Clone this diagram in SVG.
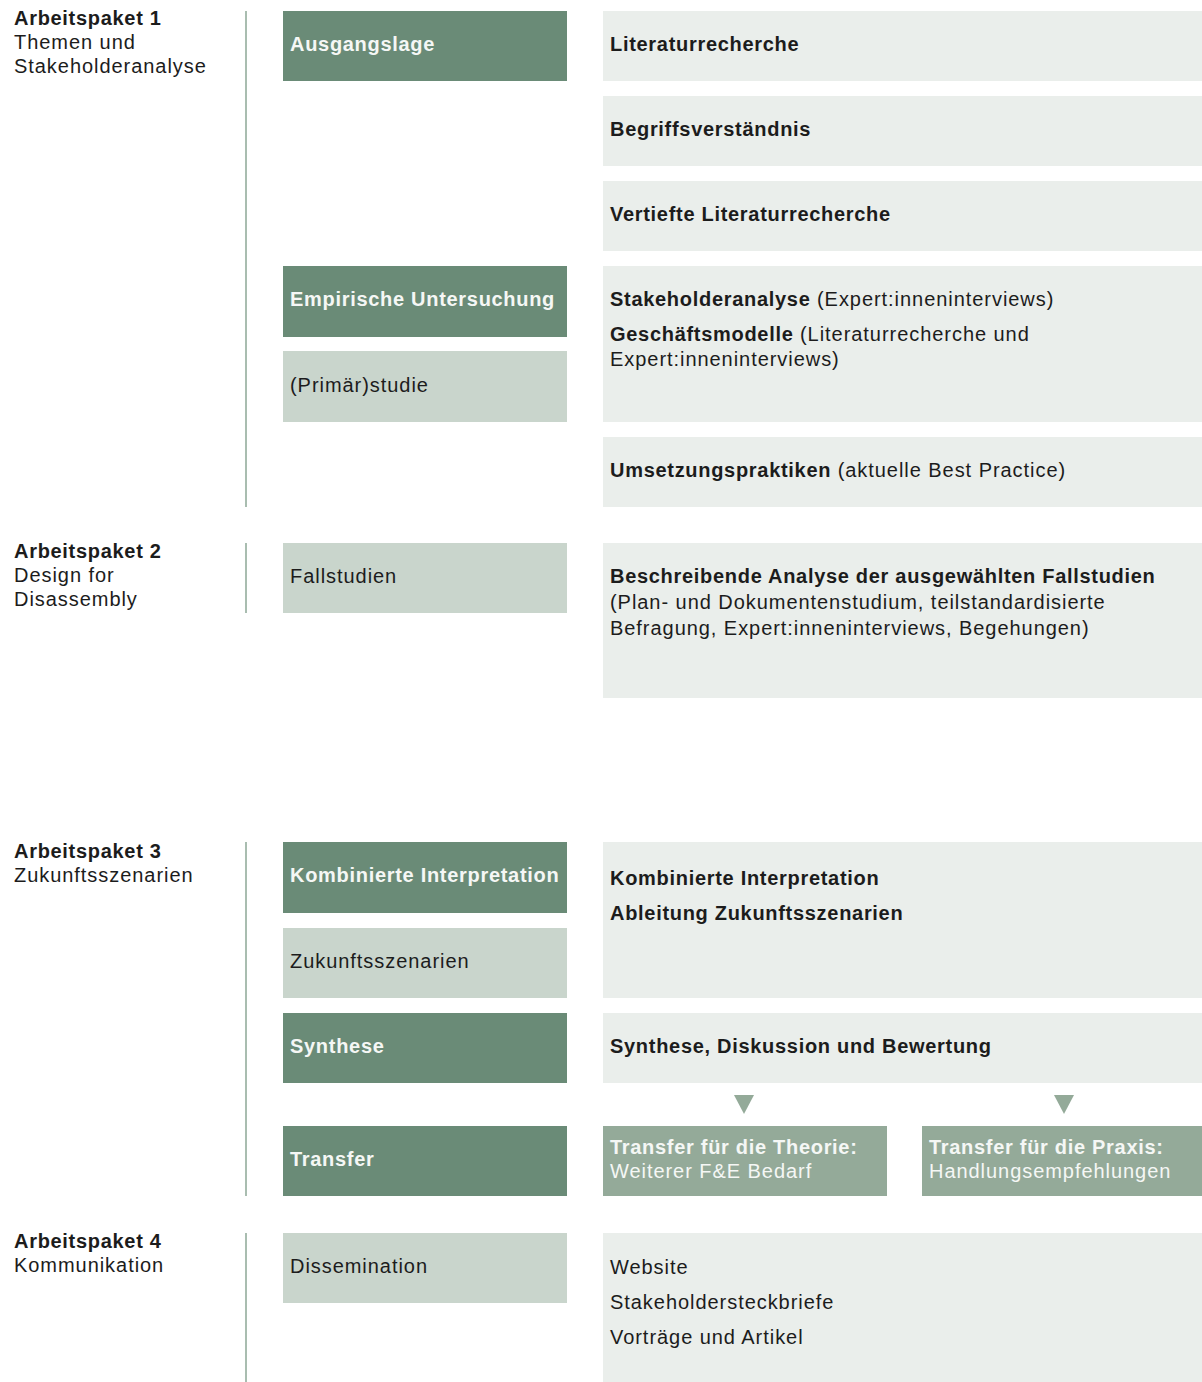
<svg xmlns="http://www.w3.org/2000/svg" width="1202" height="1382" viewBox="0 0 1202 1382">
<style>
text{font-family:"Liberation Sans",Arial,sans-serif;font-size:20px;letter-spacing:0.95px;fill:#1c1c1c}
.b{font-weight:bold;letter-spacing:0.7px}
.w{fill:#f5f7f5}
.dk{fill:#6a8b77}
.lt{fill:#c9d5cc}
.pl{fill:#eaeeeb}
.md{fill:#94aa99}
.vl{stroke:#a9bdb0;stroke-width:2;fill:none}
</style>
<rect width="1202" height="1382" fill="#ffffff"/>
<g id="separators">
<line class="vl" x1="246" y1="11" x2="246" y2="507"/>
<line class="vl" x1="246" y1="543" x2="246" y2="613"/>
<line class="vl" x1="246" y1="842" x2="246" y2="1196"/>
<line class="vl" x1="246" y1="1233" x2="246" y2="1382"/>
</g>
<g id="ap1-label"><text x="14" y="25" class="b">Arbeitspaket 1</text><text x="14" y="49">Themen und</text><text x="14" y="73">Stakeholderanalyse</text></g>
<g id="ap2-label"><text x="14" y="558" class="b">Arbeitspaket 2</text><text x="14" y="582">Design for</text><text x="14" y="606">Disassembly</text></g>
<g id="ap3-label"><text x="14" y="858" class="b">Arbeitspaket 3</text><text x="14" y="882">Zukunftsszenarien</text></g>
<g id="ap4-label"><text x="14" y="1248" class="b">Arbeitspaket 4</text><text x="14" y="1272">Kommunikation</text></g>

<g id="ausgangslage"><rect class="dk" x="283" y="11" width="284" height="70"/><text x="290" y="51" class="b w">Ausgangslage</text></g>
<g id="empirische"><rect class="dk" x="283" y="266" width="284" height="71"/><text x="290" y="306" class="b w">Empirische Untersuchung</text></g>
<g id="primaerstudie"><rect class="lt" x="283" y="351" width="284" height="71"/><text x="290" y="392">(Primär)studie</text></g>
<g id="fallstudien"><rect class="lt" x="283" y="543" width="284" height="70"/><text x="290" y="583">Fallstudien</text></g>
<g id="kombinierte"><rect class="dk" x="283" y="842" width="284" height="71"/><text x="290" y="882" class="b w">Kombinierte Interpretation</text></g>
<g id="zukunft"><rect class="lt" x="283" y="928" width="284" height="70"/><text x="290" y="968">Zukunftsszenarien</text></g>
<g id="synthese"><rect class="dk" x="283" y="1013" width="284" height="70"/><text x="290" y="1053" class="b w">Synthese</text></g>
<g id="transfer"><rect class="dk" x="283" y="1126" width="284" height="70"/><text x="290" y="1166" class="b w">Transfer</text></g>
<g id="dissemination"><rect class="lt" x="283" y="1233" width="284" height="70"/><text x="290" y="1273">Dissemination</text></g>

<g id="literatur"><rect class="pl" x="603" y="11" width="599" height="70"/><text x="610" y="51" class="b">Literaturrecherche</text></g>
<g id="begriff"><rect class="pl" x="603" y="96" width="599" height="70"/><text x="610" y="136" class="b">Begriffsverständnis</text></g>
<g id="vertiefte"><rect class="pl" x="603" y="181" width="599" height="70"/><text x="610" y="221" class="b">Vertiefte Literaturrecherche</text></g>
<g id="stakeholder"><rect class="pl" x="603" y="266" width="599" height="156"/><text x="610" y="306"><tspan class="b">Stakeholderanalyse</tspan> (Expert:inneninterviews)</text><text x="610" y="341"><tspan class="b">Geschäftsmodelle</tspan> (Literaturrecherche und</text><text x="610" y="366">Expert:inneninterviews)</text></g>
<g id="umsetzung"><rect class="pl" x="603" y="437" width="599" height="70"/><text x="610" y="477"><tspan class="b">Umsetzungspraktiken</tspan> (aktuelle Best Practice)</text></g>
<g id="beschreibende"><rect class="pl" x="603" y="543" width="599" height="155"/><text x="610" y="583" class="b">Beschreibende Analyse der ausgewählten Fallstudien</text><text x="610" y="609">(Plan- und Dokumentenstudium, teilstandardisierte</text><text x="610" y="635">Befragung, Expert:inneninterviews, Begehungen)</text></g>
<g id="kombi-ableitung"><rect class="pl" x="603" y="842" width="599" height="156"/><text x="610" y="885" class="b">Kombinierte Interpretation</text><text x="610" y="920" class="b">Ableitung Zukunftsszenarien</text></g>
<g id="synthese-diskussion"><rect class="pl" x="603" y="1013" width="599" height="70"/><text x="610" y="1053" class="b">Synthese, Diskussion und Bewertung</text></g>
<g id="transfer-theorie"><rect class="md" x="603" y="1126" width="284" height="70"/><text x="610" y="1154" class="b w">Transfer für die Theorie:</text><text x="610" y="1178" class="w">Weiterer F&amp;E Bedarf</text></g>
<g id="transfer-praxis"><rect class="md" x="922" y="1126" width="280" height="70"/><text x="929" y="1154" class="b w">Transfer für die Praxis:</text><text x="929" y="1178" class="w">Handlungsempfehlungen</text></g>
<g id="kommunikation"><rect class="pl" x="603" y="1233" width="599" height="149"/><text x="610" y="1274">Website</text><text x="610" y="1309">Stakeholdersteckbriefe</text><text x="610" y="1344">Vorträge und Artikel</text></g>

<g id="connectors">
<polygon class="md" points="734,1095 754,1095 744,1114"/>
<polygon class="md" points="1054,1095 1074,1095 1064,1114"/>
</g>
</svg>
